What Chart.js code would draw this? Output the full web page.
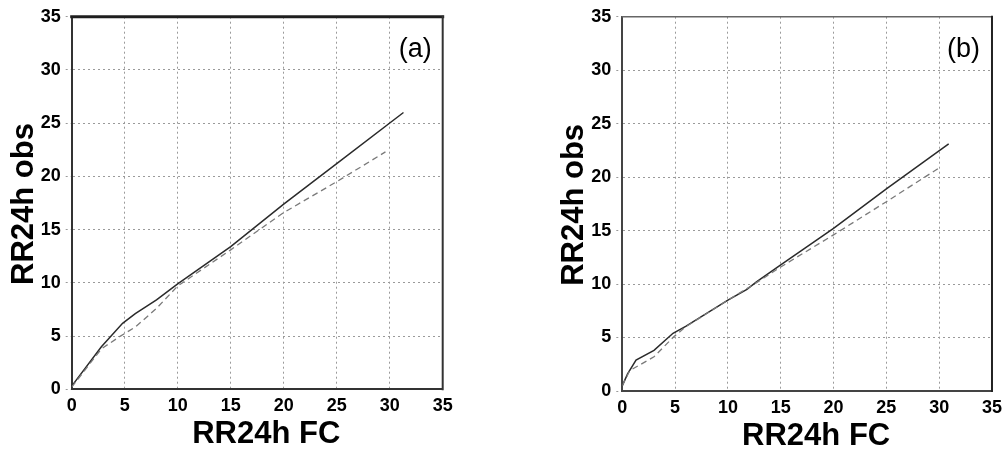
<!DOCTYPE html>
<html>
<head>
<meta charset="utf-8">
<title>RR24h obs vs RR24h FC</title>
<script src="https://cdn.jsdelivr.net/npm/chart.js@4.4.0/dist/chart.umd.min.js"></script>
<style>
  html, body { margin: 0; padding: 0; background: #fff; }
  #wrap { position: relative; width: 1008px; height: 450px; overflow: hidden; }
  canvas { position: absolute; top: 0; }
  #cA { left: 0; }
  #cB { left: 550px; }
</style>
</head>
<body>
<div id="wrap">
  <canvas id="cA" width="470" height="450"></canvas>
  <canvas id="cB" width="458" height="450"></canvas>
</div>
<script>
// Axis ticks (both axes, both panels)
const axisTicks = [0, 5, 10, 15, 20, 25, 30, 35];

// Panel (a): solid curve
const fcA1  = [0, 2.8, 4.8, 6.0, 8.0, 10.0, 15.0, 20.0, 25.0, 31.3];
const obsA1 = [0.3, 4.0, 6.2, 7.1, 8.4, 9.9, 13.4, 17.4, 21.2, 26.0];
// Panel (a): dashed curve
const fcA2  = [0, 2.8, 4.6, 6.0, 8.0, 10.0, 15.0, 20.0, 25.0, 29.6];
const obsA2 = [0.2, 3.8, 5.0, 5.85, 7.6, 9.7, 13.1, 16.6, 19.5, 22.3];

// Panel (b): solid curve
const fcB1  = [0, 0.5, 1.3, 3.0, 4.8, 6.0, 10.0, 11.8, 12.7, 15.0, 20.0, 25.0, 30.9];
const obsB1 = [0.5, 1.6, 2.9, 3.8, 5.4, 6.05, 8.5, 9.5, 10.2, 11.8, 15.2, 18.9, 23.1];
// Panel (b): dashed curve
const fcB2  = [0, 0.7, 3.0, 4.9, 6.0, 10.0, 12.5, 15.0, 20.0, 25.0, 29.9];
const obsB2 = [0.5, 1.9, 3.2, 5.1, 6.0, 8.5, 10.0, 11.6, 14.6, 17.7, 20.8];

const xTitle = 'RR24h FC';
const yTitle = 'RR24h obs';

const FONT = '"Liberation Sans", Arial, Helvetica, sans-serif';

const toPoints = (xs, ys) => xs.map((x, i) => ({ x: x, y: ys[i] }));

// Draws the top/right frame, axis titles and the panel letter
const panelDecor = {
  id: 'panelDecor',
  afterDraw(chart, args, o) {
    const { ctx, chartArea: a } = chart;
    ctx.save();
    ctx.lineCap = 'square';
    ctx.strokeStyle = o.topColor;
    ctx.lineWidth = o.topWidth;
    ctx.beginPath();
    ctx.moveTo(a.left, a.top);
    ctx.lineTo(a.right, a.top);
    ctx.stroke();
    ctx.strokeStyle = o.rightColor;
    ctx.lineWidth = o.rightWidth;
    ctx.beginPath();
    ctx.moveTo(a.right, a.top);
    ctx.lineTo(a.right, a.bottom);
    ctx.stroke();

    ctx.fillStyle = '#000';
    ctx.font = 'bold 31px ' + FONT;
    ctx.textAlign = 'center';
    ctx.textBaseline = 'alphabetic';
    ctx.fillText(o.xTitle, (a.left + a.right) / 2 + 9, o.xTitleY);
    ctx.save();
    ctx.translate(33, (a.top + a.bottom) / 2 + 1);
    ctx.rotate(-Math.PI / 2);
    ctx.fillText(o.yTitle, 0, 0);
    ctx.restore();

    ctx.font = '27px ' + FONT;
    ctx.textAlign = 'right';
    ctx.fillText(o.label, a.right - o.labelInset, a.top + 40);
    ctx.restore();
  }
};

function makePanel(canvasId, solid, dashed, p) {
  return new Chart(document.getElementById(canvasId), {
    type: 'scatter',
    data: {
      datasets: [
        {
          data: dashed,
          showLine: true,
          borderColor: '#7a7a7a',
          borderWidth: 1.3,
          borderDash: [6, 4],
          pointRadius: 0,
          tension: 0
        },
        {
          data: solid,
          showLine: true,
          borderColor: '#2b2b2b',
          borderWidth: 1.5,
          pointRadius: 0,
          tension: 0
        }
      ]
    },
    options: {
      responsive: false,
      animation: false,
      events: [],
      layout: { padding: { left: 0, top: 16.7, right: p.padRight, bottom: 0 } },
      plugins: {
        legend: { display: false },
        tooltip: { enabled: false },
        panelDecor: {
          label: p.label,
          labelInset: p.labelInset,
          xTitle: xTitle,
          yTitle: yTitle,
          xTitleY: p.xTitleY,
          topColor: p.topColor,
          topWidth: p.topWidth,
          rightColor: p.rightColor,
          rightWidth: p.rightWidth
        }
      },
      scales: {
        x: {
          type: 'linear',
          min: 0,
          max: 35,
          afterBuildTicks: s => { s.ticks = axisTicks.map(v => ({ value: v })); },
          afterFit: s => { s.height = p.xAxisHeight; },
          ticks: {
            color: '#000',
            padding: 6,
            maxRotation: 0,
            font: { family: FONT, size: 18, weight: 'bold' }
          },
          grid: { color: '#9a9a9a', lineWidth: 1, drawTicks: false },
          border: { display: true, color: p.axisColor, width: 2, dash: [2, 3] }
        },
        y: {
          type: 'linear',
          min: 0,
          max: 35,
          afterBuildTicks: s => { s.ticks = axisTicks.map(v => ({ value: v })); },
          afterFit: s => { s.width = p.yAxisWidth; },
          ticks: {
            color: '#000',
            padding: 5,
            font: { family: FONT, size: 18, weight: 'bold' }
          },
          grid: {
            color: '#9a9a9a',
            lineWidth: 1,
            drawTicks: true,
            tickLength: 6,
            tickColor: '#9a9a9a',
            tickBorderDash: [2, 3]
          },
          border: { display: true, color: p.axisColor, width: 2, dash: [2, 3] }
        }
      }
    },
    plugins: [panelDecor]
  });
}

makePanel('cA', toPoints(fcA1, obsA1), toPoints(fcA2, obsA2), {
  label: '(a)', labelInset: 11,
  padRight: 27.3, yAxisWidth: 71.7, xAxisHeight: 60.7, xTitleY: 443,
  axisColor: '#333',
  topColor: '#1e1e1e', topWidth: 3,
  rightColor: '#333', rightWidth: 2
});

makePanel('cB', toPoints(fcB1, obsB1), toPoints(fcB2, obsB2), {
  label: '(b)', labelInset: 12,
  padRight: 11.3, yAxisWidth: 72.3, xAxisHeight: 59, xTitleY: 445,
  axisColor: '#444',
  topColor: '#666', topWidth: 1.5,
  rightColor: '#222', rightWidth: 2
});
</script>
</body>
</html>
